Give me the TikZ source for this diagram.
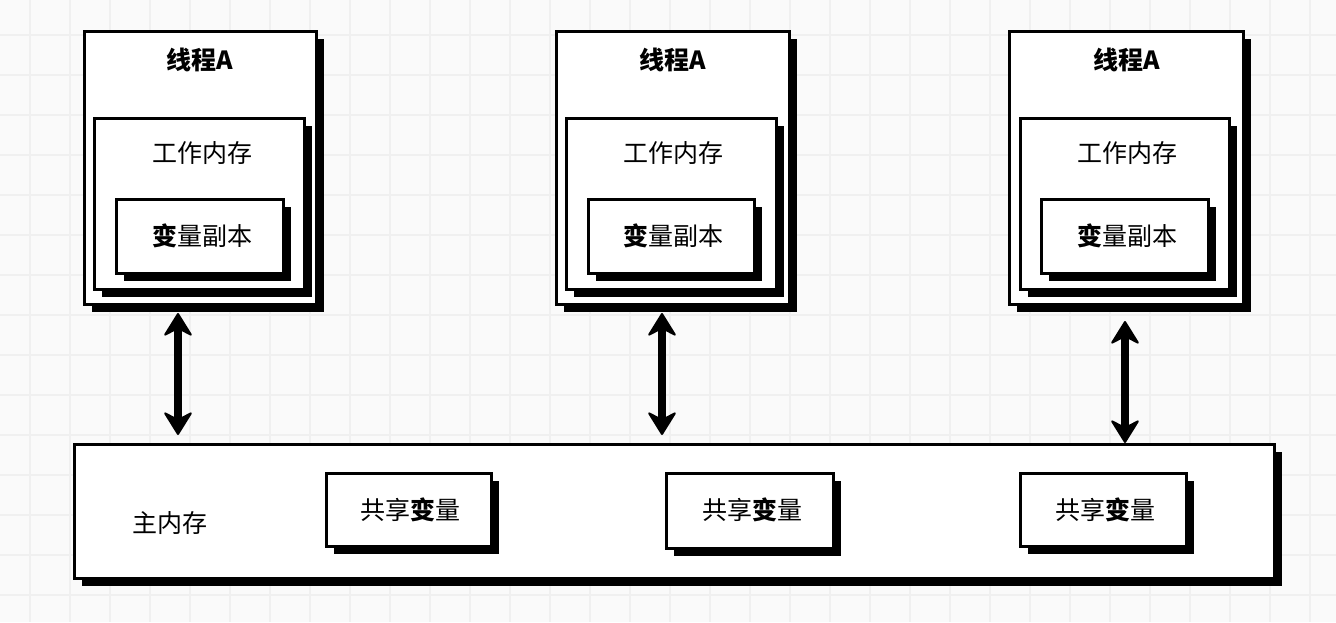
\documentclass[tikz,border=0pt]{standalone}
\usepackage{fontspec}
\newfontfamily\cjk{Noto Sans CJK SC}
\usetikzlibrary{arrows.meta,shadows}
\definecolor{bgc}{RGB}{250,250,250}
\definecolor{gridc}{RGB}{240,240,240}
\tikzset{
  box/.style={draw=black, line width=3pt, fill=white, inner sep=0pt, anchor=north west,
    drop shadow={shadow xshift=7pt, shadow yshift=-7pt, fill=black, opacity=1}},
  lbl/.style={font=\cjk\fontsize{25}{30}\selectfont, inner sep=0pt, text=black},
  headtip/.tip={Stealth[length=25pt,width=31pt,inset=8pt,line width=2pt,round]},
  biarrow/.style={line width=8pt, headtip-headtip},
}
\begin{document}
\begin{tikzpicture}[x=1pt,y=-1pt]
\fill[bgc] (0,0) rectangle (1336,622);
\useasboundingbox (0,0) rectangle (1336,622);
% grid
\foreach \k in {0,...,16}{
  \draw[gridc, line width=2.6pt] ({30+80*\k},0) -- ({30+80*\k},622);
  \draw[gridc, line width=1.4pt] ({70+80*\k},0) -- ({70+80*\k},622);
}
\foreach \k in {0,...,7}{
  \draw[gridc, line width=2.6pt] (0,{35+80*\k}) -- (1336,{35+80*\k});
  \draw[gridc, line width=1.4pt] (0,{75+80*\k}) -- (1336,{75+80*\k});
}
% thread 1
\node[box, minimum width=232pt, minimum height=273pt] (t1) at (83,30) {};
\node[lbl, font=\cjk\bfseries\fontsize{25}{30}\selectfont] (t1l) at (200,60) {线程A};
\node[box, minimum width=210pt, minimum height=171pt] (w1) at (93,117) {};
\node[lbl] (w1l) at (202,153) {工作内存};
\node[box, minimum width=167pt, minimum height=74pt] (v1) at (115,198) {};
\node[lbl] (v1l) at (202,236) {{\bfseries 变}量副本};
% thread 2
\node[box, minimum width=233pt, minimum height=273pt] (t2) at (555,30) {};
\node[lbl, font=\cjk\bfseries\fontsize{25}{30}\selectfont] (t2l) at (673,60) {线程A};
\node[box, minimum width=210pt, minimum height=171pt] (w2) at (565,117) {};
\node[lbl] (w2l) at (673,153) {工作内存};
\node[box, minimum width=166pt, minimum height=74pt] (v2) at (587,198) {};
\node[lbl] (v2l) at (673,236) {{\bfseries 变}量副本};
% thread 3
\node[box, minimum width=234pt, minimum height=273pt] (t3) at (1008,30) {};
\node[lbl, font=\cjk\bfseries\fontsize{25}{30}\selectfont] (t3l) at (1127,60) {线程A};
\node[box, minimum width=209pt, minimum height=171pt] (w3) at (1019,117) {};
\node[lbl] (w3l) at (1127,153) {工作内存};
\node[box, minimum width=167pt, minimum height=74pt] (v3) at (1040,198) {};
\node[lbl] (v3l) at (1127,236) {{\bfseries 变}量副本};
% main memory
\node[box, minimum width=1200pt, minimum height=134pt] (m) at (73,443) {};
\node[lbl] (ml) at (170,523) {主内存};
\node[box, minimum width=165pt, minimum height=73pt] (s1) at (325,472) {};
\node[lbl] (s1l) at (410,510) {共享{\bfseries 变}量};
\node[box, minimum width=167pt, minimum height=75pt] (s2) at (665,472) {};
\node[lbl] (s2l) at (752,510) {共享{\bfseries 变}量};
\node[box, minimum width=166pt, minimum height=73pt] (s3) at (1019,472) {};
\node[lbl] (s3l) at (1105,510) {共享{\bfseries 变}量};
% arrows
\coordinate (x1) at (178,0);
\coordinate (x2) at (662,0);
\coordinate (x3) at (1125,0);
\draw[biarrow] ([yshift=-7pt]x1 |- t1.south) -- ([yshift=8pt]x1 |- m.north);
\draw[biarrow] ([yshift=-7pt]x2 |- t2.south) -- ([yshift=8pt]x2 |- m.north);
\draw[biarrow] ([yshift=-15pt]x3 |- t3.south) -- ([yshift=0pt]x3 |- m.north);
\end{tikzpicture}
\end{document}
